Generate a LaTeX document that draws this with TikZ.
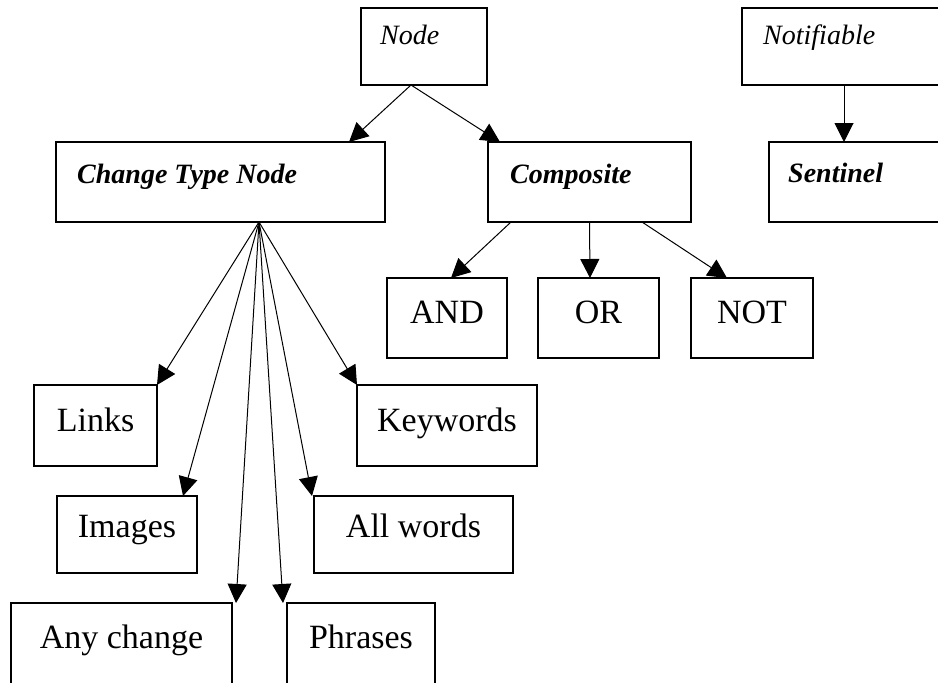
\documentclass[tikz,border=0pt]{standalone}
\usepackage{fontspec}
\setmainfont{Liberation Serif}
\usetikzlibrary{arrows.meta}

\tikzset{
  box/.style={draw=black, line width=1.4pt, rectangle, outer sep=0pt, inner sep=0pt},
  lbl/.style={inner sep=0pt, anchor=base, font=\fontsize{34}{40}\selectfont},
  cls/.style={inner sep=0pt, anchor=base west, font=\fontsize{28}{34}\selectfont\itshape},
  clsb/.style={inner sep=0pt, anchor=base west, font=\fontsize{28}{34}\selectfont\bfseries\itshape},
  link/.style={line width=1pt, -{Triangle[length=19pt,width=19pt]}}
}

\begin{document}
\begin{tikzpicture}[x=1pt, y=-1pt]
  \useasboundingbox (0,0) rectangle (938,683);

  % class boxes
  \node[box, minimum width=126pt, minimum height=77pt] (node) at (424,46.5) {};
  \node[box, minimum width=250pt, minimum height=77pt] (notif) at (867,46.5) {};
  \node[box, minimum width=329pt, minimum height=80pt] (ctn) at (220.5,182) {};
  \node[box, minimum width=203pt, minimum height=80pt] (comp) at (589.5,182) {};
  \node[box, minimum width=250pt, minimum height=80pt] (sent) at (894,182) {};

  % composite operators
  \node[box, minimum width=120pt, minimum height=80pt] (and) at (447,318) {};
  \node[box, minimum width=121pt, minimum height=80pt] (or) at (598.5,318) {};
  \node[box, minimum width=122pt, minimum height=80pt] (not) at (752,318) {};

  % change types
  \node[box, minimum width=123pt, minimum height=81pt] (links) at (95.5,425.5) {};
  \node[box, minimum width=180pt, minimum height=81pt] (keywords) at (447,425.5) {};
  \node[box, minimum width=140pt, minimum height=77pt] (images) at (127,534.5) {};
  \node[box, minimum width=199pt, minimum height=77pt] (allwords) at (413.5,534.5) {};
  \node[box, minimum width=221pt, minimum height=84pt] (anychange) at (121.5,645) {};
  \node[box, minimum width=148pt, minimum height=84pt] (phrases) at (361,645) {};

  % labels
  \node[cls] (tnode) at (380,44) {Node};
  \node[cls] (tnotif) at (763,44) {Notifiable};
  \node[clsb] (tctn) at (77,183) {Change Type Node};
  \node[clsb] (tcomp) at (510,183) {Composite};
  \node[clsb] (tsent) at (788,182) {Sentinel};

  \node[lbl] (tand) at (447,323) {AND};
  \node[lbl] (tor) at (598.5,323) {OR};
  \node[lbl] (tnot) at (752,323) {NOT};

  \node[lbl] (tlinks) at (95.5,431) {Links};
  \node[lbl] (tkeywords) at (447,431) {Keywords};
  \node[lbl] (timages) at (127,537) {Images};
  \node[lbl] (tallwords) at (413.5,537) {All words};
  \node[lbl] (tanychange) at (121.5,648) {Any change};
  \node[lbl] (tphrases) at (361,648) {Phrases};

  % connector end points
  \coordinate (nodeout) at ([xshift=-13pt]node.south);
  \coordinate (ctnout) at ([xshift=203pt]ctn.south west);

  % inheritance
  \draw[link] (nodeout) -- ([xshift=128.5pt]ctn.north);
  \draw[link] (nodeout) -- ([xshift=12pt]comp.north west);
  \draw[link] ([xshift=102pt]notif.south west) -- ([xshift=75pt]sent.north west);

  \draw[link] ([xshift=23pt]comp.south west) -- ([xshift=64pt]and.north west);
  \draw[link] (comp.south) -- ([xshift=52pt]or.north west);
  \draw[link] ([xshift=-49pt]comp.south east) -- ([xshift=36pt]not.north west);

  \draw[link] (ctnout) -- (links.north east);
  \draw[link] (ctnout) -- ([xshift=-14pt]images.north east);
  \draw[link] (ctnout) -- ([xshift=4pt]anychange.north east);
  \draw[link] (ctnout) -- ([xshift=-4pt]phrases.north west);
  \draw[link] (ctnout) -- ([xshift=-2pt]allwords.north west);
  \draw[link] (ctnout) -- (keywords.north west);
\end{tikzpicture}
\end{document}
